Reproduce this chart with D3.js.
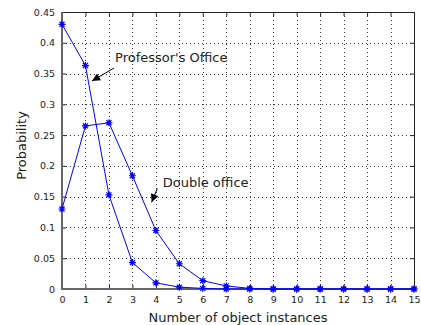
<!DOCTYPE html>
<html>
<head>
<meta charset="utf-8">
<script src="https://cdn.jsdelivr.net/npm/d3@7"></script>
<style>
  body { margin: 0; background: #fff; }
  svg { display: block; font-family: "DejaVu Sans", sans-serif; }
</style>
</head>
<body>
<svg id="chart" width="421" height="325"></svg>
<script>
// number of object instances 0..15
var instances = d3.range(0, 16);
var professorOffice = [0.43, 0.363, 0.153, 0.043, 0.010, 0.003, 0.001, 0, 0, 0, 0, 0, 0, 0, 0, 0];
var doubleOffice = [0.13, 0.265, 0.27, 0.184, 0.095, 0.041, 0.0135, 0.005, 0.001, 0, 0, 0, 0, 0, 0, 0];
var yTicks = [0, 0.05, 0.1, 0.15, 0.2, 0.25, 0.3, 0.35, 0.4, 0.45];
var xTicks = d3.range(0, 16);

// annotations in data units: text start, arrow tail, arrow head
var notes = [
    {text: "Professor's Office", tx: 2.26, ty: 0.369, x1: 2.22, y1: 0.359, x2: 1.28, y2: 0.338},
    {text: "Double office", tx: 4.29, ty: 0.166, x1: 4.06, y1: 0.163, x2: 3.82, y2: 0.141}
];

var svg = d3.select("#chart");
// note: "top" is a reserved window prop, so use p* names
var pLeft = 62, pRight = 414, pTop = 12, pBottom = 289;
var w = pRight - pLeft, h = pBottom - pTop;

var x = d3.scaleLinear().domain([0, 15]).range([pLeft, pRight]);
var y = d3.scaleLinear().domain([0, 0.45]).range([pBottom, pTop]);

// dotted grid
var grid = svg.append("g").attr("class", "grid");
grid.selectAll("line.gx").data(xTicks.slice(1, -1)).enter().append("line")
    .attr("x1", function (d) { return Math.round(x(d)) + 0.5; })
    .attr("x2", function (d) { return Math.round(x(d)) + 0.5; })
    .attr("y1", pTop).attr("y2", pBottom);
grid.selectAll("line.gy").data(yTicks.slice(1, -1)).enter().append("line")
    .attr("y1", function (d) { return Math.round(y(d)) + 0.5; })
    .attr("y2", function (d) { return Math.round(y(d)) + 0.5; })
    .attr("x1", pLeft).attr("x2", pRight);
grid.selectAll("line")
    .attr("stroke", "#333")
    .attr("stroke-width", 1)
    .attr("stroke-dasharray", "1,3");

// axes with inward ticks
var fmt = function (d) { return d === 0 ? "0" : String(+d.toFixed(2)); };

var gx = svg.append("g").attr("transform", "translate(0," + pBottom + ")")
    .call(d3.axisBottom(x).tickValues(xTicks).tickSize(-4).tickPadding(7).tickFormat(d3.format("d")));
var gxt = svg.append("g").attr("transform", "translate(0," + pTop + ")")
    .call(d3.axisTop(x).tickValues(xTicks).tickSize(-4).tickFormat(""));
var gy = svg.append("g").attr("transform", "translate(" + pLeft + ",0)")
    .call(d3.axisLeft(y).tickValues(yTicks).tickSize(-4).tickPadding(7).tickFormat(fmt));
var gyr = svg.append("g").attr("transform", "translate(" + pRight + ",0)")
    .call(d3.axisRight(y).tickValues(yTicks).tickSize(-4).tickFormat(""));

[gx, gxt, gy, gyr].forEach(function (g) {
    g.select(".domain").remove();
    g.selectAll(".tick line").attr("stroke", "#222");
    g.selectAll(".tick text").attr("fill", "#222").style("font-size", "9.5px")
        .style("font-family", "DejaVu Sans, sans-serif");
});

// box
svg.append("rect")
    .attr("x", pLeft + 0.5).attr("y", pTop + 0.5)
    .attr("width", w).attr("height", h)
    .attr("fill", "none").attr("stroke", "#222").attr("stroke-width", 1);
svg.append("line")
    .attr("x1", pLeft).attr("x2", pLeft).attr("y1", pTop).attr("y2", pBottom + 1)
    .attr("stroke", "#666").attr("stroke-width", 2);
svg.append("line")
    .attr("x1", pLeft).attr("x2", pRight + 1).attr("y1", pBottom).attr("y2", pBottom)
    .attr("stroke", "#666").attr("stroke-width", 2);

// series
var line = d3.line()
    .x(function (d, i) { return x(instances[i]); })
    .y(function (d) { return y(d); });

var star = function (s) {
    var d = s * 0.72;
    return "M" + (-s) + ",0L" + s + ",0M0," + (-s) + "L0," + s +
        "M" + (-d) + "," + (-d) + "L" + d + "," + d +
        "M" + (-d) + "," + d + "L" + d + "," + (-d);
};

[professorOffice, doubleOffice].forEach(function (series) {
    svg.append("path")
        .datum(series)
        .attr("d", line)
        .attr("fill", "none")
        .attr("stroke", "#0000ff")
        .attr("stroke-width", 1);
    svg.append("g").selectAll("path").data(series).enter().append("path")
        .attr("transform", function (d, i) { return "translate(" + x(instances[i]) + "," + y(d) + ")"; })
        .attr("d", star(3.5))
        .attr("fill", "none")
        .attr("stroke", "#0000ff")
        .attr("stroke-width", 1.2);
});

// annotations
svg.append("defs").append("marker")
    .attr("id", "arrow")
    .attr("viewBox", "0 0 10 10")
    .attr("refX", 10).attr("refY", 5)
    .attr("markerWidth", 10).attr("markerHeight", 8)
    .attr("markerUnits", "userSpaceOnUse")
    .attr("orient", "auto")
    .append("path")
    .attr("d", "M0,0L10,5L0,10Z")
    .attr("fill", "#000");

notes.forEach(function (n) {
    svg.append("line")
        .attr("x1", x(n.x1)).attr("y1", y(n.y1))
        .attr("x2", x(n.x2)).attr("y2", y(n.y2))
        .attr("stroke", "#000").attr("stroke-width", 1)
        .attr("marker-end", "url(#arrow)");
    svg.append("text")
        .attr("x", x(n.tx)).attr("y", y(n.ty))
        .attr("fill", "#222")
        .style("font-size", "13px")
        .text(n.text);
});

// axis titles
svg.append("text")
    .attr("x", (pLeft + pRight) / 2).attr("y", 322)
    .attr("text-anchor", "middle")
    .attr("fill", "#222")
    .style("font-size", "13px")
    .text("Number of object instances");

svg.append("text")
    .attr("transform", "translate(26," + ((pTop + pBottom) / 2 - 5) + ") rotate(-90)")
    .attr("text-anchor", "middle")
    .attr("fill", "#222")
    .style("font-size", "13px")
    .text("Probability");
</script>
</body>
</html>
